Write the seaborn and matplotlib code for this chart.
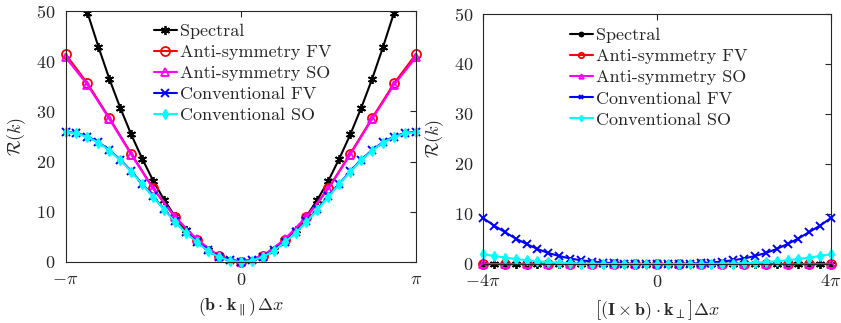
import numpy as np
import pandas as pd
import matplotlib
matplotlib.use("Agg")
import matplotlib.pyplot as plt
import seaborn as sns

# ---------------- data ----------------
labels = ["Spectral", "Anti-symmetry FV", "Anti-symmetry SO",
          "Conventional FV", "Conventional SO"]

# left panel: (b.k_par) dx in [-pi, pi]
k_left_fine = np.linspace(-np.pi, np.pi, 33)     # step pi/16
k_left_coarse = np.linspace(-np.pi, np.pi, 17)   # step pi/8

spec_left = [64.9, 57.1, 49.7, 42.9, 36.5, 30.7, 25.4, 20.6, 16.2, 12.4, 9.1, 6.3, 4.1, 2.3, 1.0, 0.25,
             0.0,
             0.25, 1.0, 2.3, 4.1, 6.3, 9.1, 12.4, 16.2, 20.6, 25.4, 30.7, 36.5, 42.9, 49.7, 57.1, 64.9]
afv_left = [41.4, 35.6, 28.7, 21.6, 14.7, 8.9, 4.4, 1.1,
            0.0,
            1.1, 4.4, 8.9, 14.7, 21.6, 28.7, 35.6, 41.4]
aso_left = [40.8, 35.3, 28.5, 21.4, 14.6, 9.0, 4.5, 1.2,
            0.0,
            1.2, 4.5, 9.0, 14.6, 21.4, 28.5, 35.3, 40.8]
cfv_left = [25.9, 25.7, 25.0, 23.9, 22.3, 20.4, 18.1, 15.6, 13.1, 10.5, 8.1, 5.9, 4.0, 2.3, 1.0, 0.3,
            0.0,
            0.3, 1.0, 2.3, 4.0, 5.9, 8.1, 10.5, 13.1, 15.6, 18.1, 20.4, 22.3, 23.9, 25.0, 25.7, 25.9]
cso_left = [25.8, 25.6, 24.9, 23.8, 22.2, 20.3, 18.0, 15.5, 13.0, 10.4, 8.0, 5.8, 3.9, 2.2, 1.0, 0.25,
            0.0,
            0.25, 1.0, 2.2, 3.9, 5.8, 8.0, 10.4, 13.0, 15.5, 18.0, 20.3, 22.2, 23.8, 24.9, 25.6, 25.8]

# right panel: [(I x b).k_perp] dx in [-4pi, 4pi]
k_right_fine = np.linspace(-4 * np.pi, 4 * np.pi, 33)    # step pi/4
k_right_coarse = np.linspace(-4 * np.pi, 4 * np.pi, 17)  # step pi/2

spec_right = [0.0] * 33
afv_right = [0.0] * 17
aso_right = [0.0] * 17
cfv_right = [9.2, 7.7, 6.4, 5.1, 4.0, 3.0, 2.2, 1.6, 1.1, 0.75, 0.5, 0.3, 0.15, 0.07, 0.02, 0.0,
             0.0,
             0.0, 0.02, 0.07, 0.15, 0.3, 0.5, 0.75, 1.1, 1.6, 2.2, 3.0, 4.0, 5.1, 6.4, 7.7, 9.2]
cso_right = [2.0, 1.6, 1.3, 1.0, 0.75, 0.55, 0.38, 0.25, 0.16, 0.1, 0.06, 0.03, 0.015, 0.005, 0.0, 0.0,
             0.0,
             0.0, 0.0, 0.005, 0.015, 0.03, 0.06, 0.1, 0.16, 0.25, 0.38, 0.55, 0.75, 1.0, 1.3, 1.6, 2.0]

y_ticks = [0, 10, 20, 30, 40, 50]
left_xticks = [-np.pi, 0, np.pi]
left_xticklabels = [r"$-\pi$", r"$0$", r"$\pi$"]
right_xticks = [-4 * np.pi, 0, 4 * np.pi]
right_xticklabels = [r"$-4\pi$", r"$0$", r"$4\pi$"]

# ---------------- styling ----------------
sns.set_theme(style="white")
plt.rcParams.update({
    "font.family": ["cmr10", "DejaVu Serif"],
    "mathtext.fontset": "cm",
    "axes.formatter.use_mathtext": True,
    "axes.unicode_minus": False,
    "text.color": "#262626",
    "axes.labelcolor": "#262626",
    "xtick.color": "#262626",
    "ytick.color": "#262626",
})

styles = [
    dict(color="black", marker=(6, 2, 0), ms=6.5, mfc="black", mew=1.3),
    dict(color="#ff0000", marker="o", ms=6.5, mfc="none", mew=1.3),
    dict(color="#ff00ff", marker="^", ms=5.5, mfc="none", mew=1.3),
    dict(color="#0000ff", marker="x", ms=6, mfc="#0000ff", mew=1.4),
    dict(color="#00ffff", marker="d", ms=5.5, mfc="#00ffff", mew=1.0),
]

W, H = 841, 323
fig = plt.figure(figsize=(W / 100, H / 100), dpi=100)
axL = fig.add_axes([65.5 / W, (H - 262) / H, 350.5 / W, 251 / H])
axR = fig.add_axes([483 / W, (H - 264) / H, 348 / W, 250 / H])

def draw(ax, series):
    for (x, y), lab, st in zip(series, labels, styles):
        df = pd.DataFrame({"x": x, "y": y})
        sns.lineplot(data=df, x="x", y="y", ax=ax, label=lab, color=st["color"], sort=False)
        ln = ax.get_lines()[-1]
        ln.set_linestyle("-")
        ln.set_linewidth(1.5)
        ln.set_marker(st["marker"])
        ln.set_markersize(st["ms"])
        ln.set_markeredgecolor(st["color"])
        ln.set_markerfacecolor(st["mfc"])
        ln.set_markeredgewidth(st["mew"])

draw(axL, [(k_left_fine, spec_left), (k_left_coarse, afv_left), (k_left_coarse, aso_left),
           (k_left_fine, cfv_left), (k_left_fine, cso_left)])
draw(axR, [(k_right_fine, spec_right), (k_right_coarse, afv_right), (k_right_coarse, aso_right),
           (k_right_fine, cfv_right), (k_right_fine, cso_right)])

for ax in (axL, axR):
    ax.set_ylim(0, 50)
    ax.set_yticks(y_ticks)
    ax.set_ylabel(r"$\mathcal{R}(k)$", fontsize=13, labelpad=6)
    ax.tick_params(direction="in", length=4, width=0.8, top=True, right=True,
                   labelsize=13, pad=7)
    for s in ax.spines.values():
        s.set_color("#262626")
        s.set_linewidth(0.8)
        s.set_visible(True)
    for ln in ax.get_lines():
        ln.set_clip_on(False)

axL.set_xlim(-np.pi, np.pi)
axL.get_lines()[0].set_clip_on(True)
axL.set_xticks(left_xticks)
axL.set_xticklabels(left_xticklabels)
axL.set_xlabel(r"$\left(\mathbf{b}\cdot\mathbf{k}_{\parallel}\right)\,\Delta x$", fontsize=13, labelpad=6)

axR.set_xlim(-4 * np.pi, 4 * np.pi)
axR.set_xticks(right_xticks)
axR.set_xticklabels(right_xticklabels)
axR.set_xlabel(r"$\left[(\mathbf{I}\times\mathbf{b})\cdot\mathbf{k}_{\perp}\right]\Delta x$", fontsize=13, labelpad=6)

axL.legend(loc="upper left", bbox_to_anchor=(0.253, 0.95), frameon=False,
           handlelength=1.25, handletextpad=0.2, labelspacing=0.3,
           borderaxespad=0, borderpad=0, fontsize=13)
axR.legend(loc="upper left", bbox_to_anchor=(0.25, 0.945), frameon=False,
           handlelength=1.25, handletextpad=0.2, labelspacing=0.3,
           borderaxespad=0, borderpad=0, fontsize=13, markerscale=0.6)

fig.savefig("out.png", dpi=100)
